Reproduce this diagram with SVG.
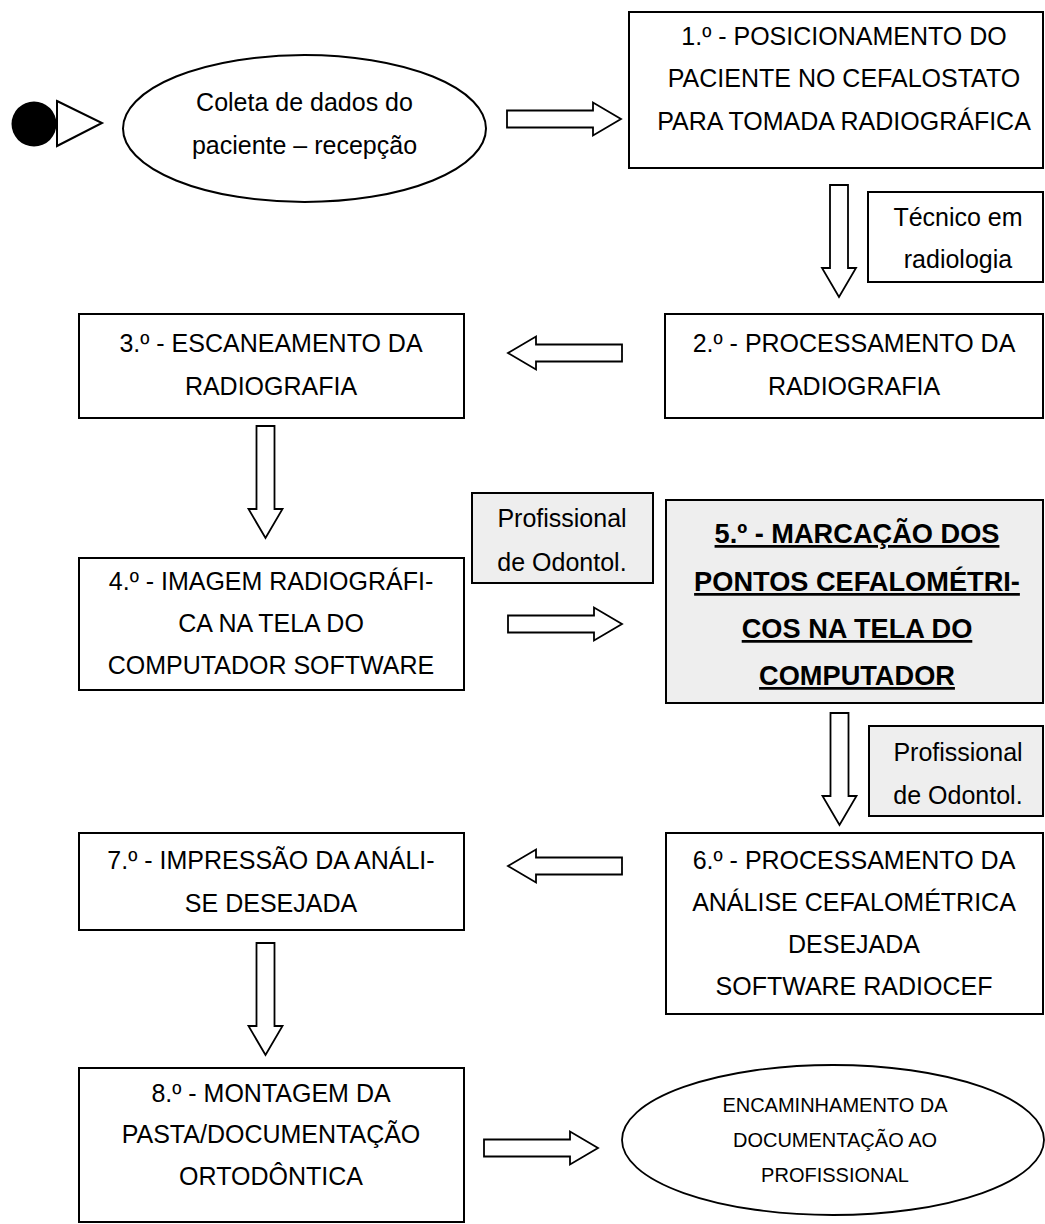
<svg xmlns="http://www.w3.org/2000/svg" width="1045" height="1224" viewBox="0 0 1045 1224">
<style>
.box{fill:#fff;stroke:#000;stroke-width:2}
.gbox{fill:#eeeeee;stroke:#000;stroke-width:2}
.arr{fill:#fff;stroke:#000;stroke-width:1.8;stroke-linejoin:miter}
.t{font-family:"Liberation Sans",Arial,sans-serif;font-size:25px;fill:#000;text-anchor:middle}
.b{font-family:"Liberation Sans",Arial,sans-serif;font-size:27.2px;font-weight:bold;fill:#000;text-anchor:middle;text-decoration:underline}
.s{font-family:"Liberation Sans",Arial,sans-serif;font-size:20px;fill:#000;text-anchor:middle}
</style>
<defs>
<path id="arrR" d="M0,-8.5 H86 V-16.5 L114,0 L86,16.5 V8.5 H0 Z"/>
<path id="arrD" d="M-9,0 V83 H-17 L0,112 L17,83 H9 V0 Z"/>
</defs>
<rect width="1045" height="1224" fill="#fff"/>

<g id="start">
<circle cx="34" cy="124" r="22.5" fill="#000"/>
<polygon points="57,101 102,123 57,146" fill="#fff" stroke="#000" stroke-width="2"/>
</g>

<g id="n0">
<ellipse cx="304.5" cy="128.5" rx="181.5" ry="73.5" fill="#fff" stroke="#000" stroke-width="2"/>
<text class="t" x="304.5" y="111">Coleta de dados do</text>
<text class="t" x="304.5" y="154">paciente – recepção</text>
</g>

<g id="n1">
<rect class="box" x="629" y="12" width="414" height="156"/>
<text class="t" x="844" y="45">1.º - POSICIONAMENTO DO</text>
<text class="t" x="844" y="87">PACIENTE NO CEFALOSTATO</text>
<text class="t" x="844" y="130">PARA TOMADA RADIOGRÁFICA</text>
</g>

<g id="lbl1">
<rect class="box" x="868" y="192" width="175" height="90"/>
<text class="t" x="958" y="226">Técnico em</text>
<text class="t" x="958" y="268">radiologia</text>
</g>

<g id="n2">
<rect class="box" x="665" y="314" width="378" height="104"/>
<text class="t" x="854" y="352">2.º - PROCESSAMENTO DA</text>
<text class="t" x="854" y="395">RADIOGRAFIA</text>
</g>

<g id="n3">
<rect class="box" x="79" y="314" width="385" height="104"/>
<text class="t" x="271" y="352">3.º - ESCANEAMENTO DA</text>
<text class="t" x="271" y="395">RADIOGRAFIA</text>
</g>

<g id="lbl2">
<rect class="gbox" x="472" y="493" width="181" height="90"/>
<text class="t" x="562" y="527">Profissional</text>
<text class="t" x="562" y="571">de Odontol.</text>
</g>

<g id="n4">
<rect class="box" x="79" y="558" width="385" height="132"/>
<text class="t" x="271" y="590">4.º - IMAGEM RADIOGRÁFI-</text>
<text class="t" x="271" y="632">CA NA TELA DO</text>
<text class="t" x="271" y="674">COMPUTADOR SOFTWARE</text>
</g>

<g id="n5">
<rect class="gbox" x="666" y="500" width="377" height="203"/>
<text class="b" x="857" y="543">5.º - MARCAÇÃO DOS</text>
<text class="b" x="857" y="591">PONTOS CEFALOMÉTRI-</text>
<text class="b" x="857" y="638">COS NA TELA DO</text>
<text class="b" x="857" y="685">COMPUTADOR</text>
</g>

<g id="lbl3">
<rect class="gbox" x="869" y="726" width="174" height="90"/>
<text class="t" x="958" y="761">Profissional</text>
<text class="t" x="958" y="804">de Odontol.</text>
</g>

<g id="n6">
<rect class="box" x="666" y="833" width="377" height="181"/>
<text class="t" x="854" y="869">6.º - PROCESSAMENTO DA</text>
<text class="t" x="854" y="911">ANÁLISE CEFALOMÉTRICA</text>
<text class="t" x="854" y="953">DESEJADA</text>
<text class="t" x="854" y="995">SOFTWARE RADIOCEF</text>
</g>

<g id="n7">
<rect class="box" x="79" y="833" width="385" height="97"/>
<text class="t" x="271" y="869">7.º - IMPRESSÃO DA ANÁLI-</text>
<text class="t" x="271" y="912">SE DESEJADA</text>
</g>

<g id="n8">
<rect class="box" x="79" y="1068" width="385" height="154"/>
<text class="t" x="271" y="1102">8.º - MONTAGEM DA</text>
<text class="t" x="271" y="1143">PASTA/DOCUMENTAÇÃO</text>
<text class="t" x="271" y="1185">ORTODÔNTICA</text>
</g>

<g id="n9">
<ellipse cx="833" cy="1140" rx="211" ry="75" fill="#fff" stroke="#000" stroke-width="1.8"/>
<text class="s" x="835" y="1112">ENCAMINHAMENTO DA</text>
<text class="s" x="835" y="1147">DOCUMENTAÇÃO AO</text>
<text class="s" x="835" y="1182">PROFISSIONAL</text>
</g>

<g id="connectors">
<use href="#arrR" class="arr" transform="translate(507,119)"/>
<use href="#arrD" class="arr" transform="translate(839,185)"/>
<use href="#arrR" class="arr" transform="translate(622,353) scale(-1,1)"/>
<use href="#arrD" class="arr" transform="translate(265.5,426)"/>
<use href="#arrR" class="arr" transform="translate(508,624)"/>
<use href="#arrD" class="arr" transform="translate(839.5,713)"/>
<use href="#arrR" class="arr" transform="translate(622,866) scale(-1,1)"/>
<use href="#arrD" class="arr" transform="translate(265.5,943)"/>
<use href="#arrR" class="arr" transform="translate(484,1148)"/>
</g>
</svg>
